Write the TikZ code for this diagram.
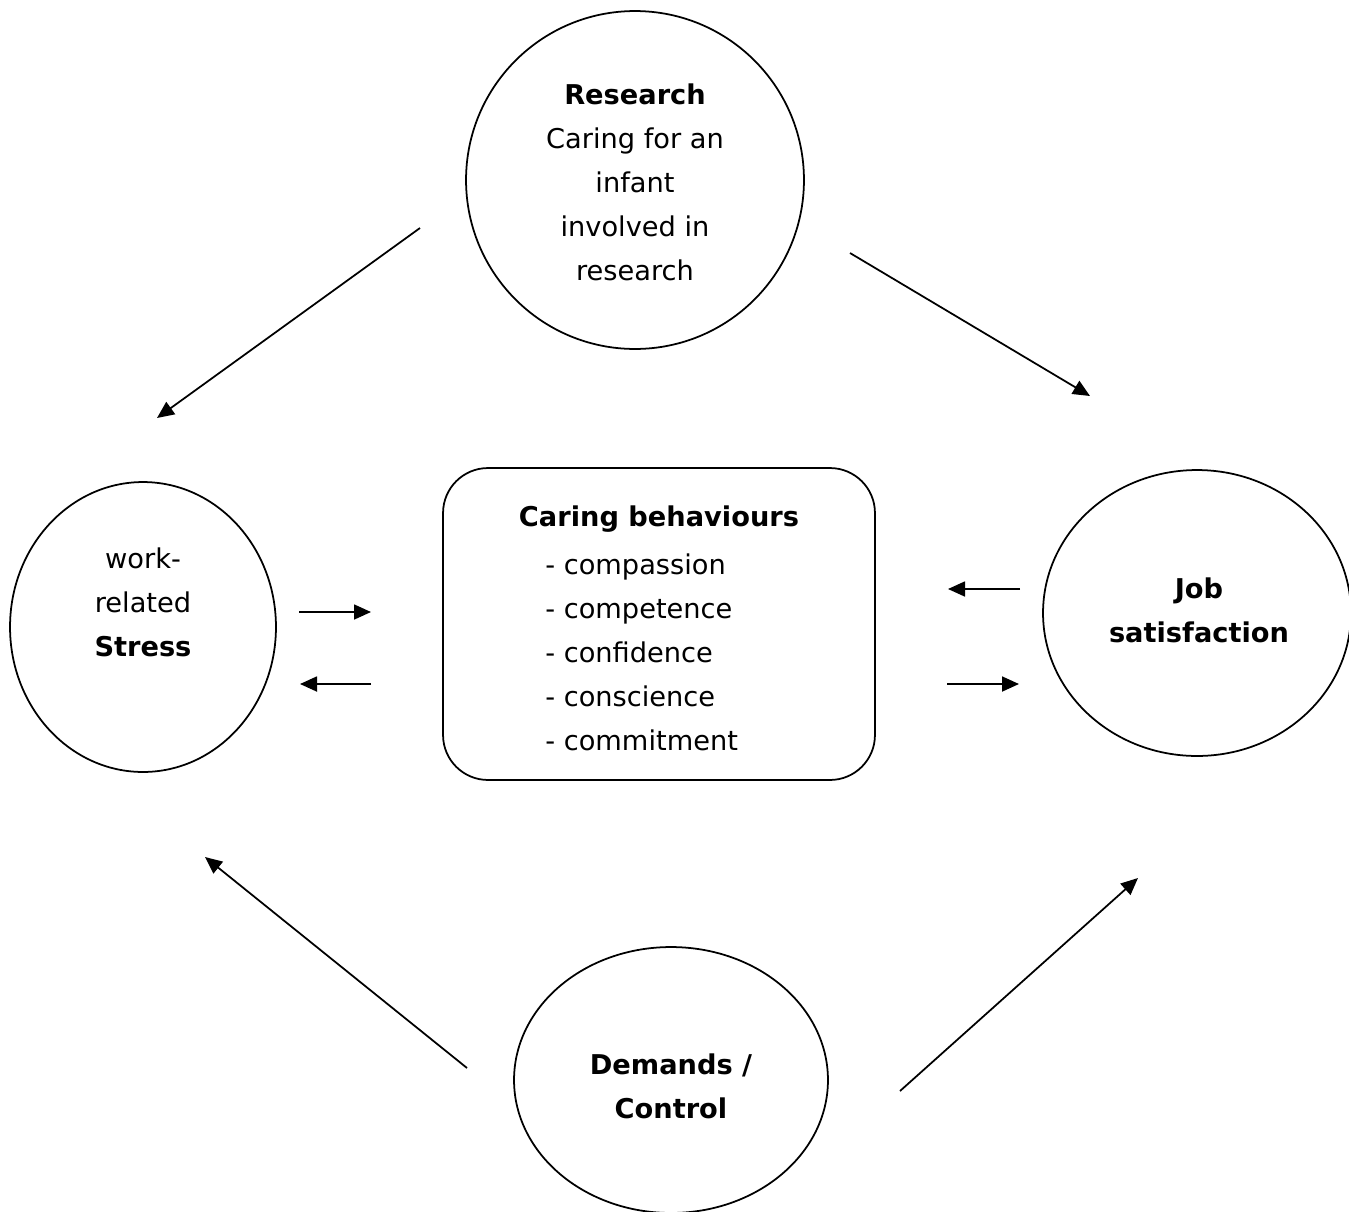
\documentclass[tikz,border=0pt]{standalone}
\usepackage{fontspec}
\setmainfont{DejaVu Sans}
\usetikzlibrary{shapes.geometric,arrows.meta}
\begin{document}
\begin{tikzpicture}[x=0.02cm,y=-0.02cm,
  bubble/.style={draw, ellipse, line width=1pt, inner sep=0pt},
  txt/.style={align=center, font=\fontsize{15.5}{25}\selectfont, inner sep=0pt},
  arr/.style={line width=1pt, -{Triangle[length=0.34cm,width=0.3cm]}}]
\clip (0,0) rectangle (1349,1211);
\fill[white] (0,0) rectangle (1349,1211);
% shapes
\node[bubble, minimum width=6.76cm, minimum height=6.76cm] (research) at (635,180) {};
\node[bubble, minimum width=5.32cm, minimum height=5.8cm] (stress) at (143,627) {};
\node[bubble, minimum width=6.16cm, minimum height=5.72cm] (job) at (1197,613) {};
\node[bubble, minimum width=6.28cm, minimum height=5.32cm] (demands) at (671,1080) {};
\node[draw, line width=1pt, rounded corners=0.9cm, minimum width=8.64cm, minimum height=6.24cm, inner sep=0pt] (care) at (659,624) {};
% texts
\node[txt] (researchtxt) at (635,182) {\textbf{Research}\\Caring for an\\infant\\involved in\\research};
\node[txt] (stresstxt) at (143,602) {work-\\related\\\textbf{Stress}};
\node[txt] (jobtxt) at (1199,610) {\textbf{Job}\\\textbf{satisfaction}};
\node[txt] (demandstxt) at (671,1086) {\textbf{Demands /}\\\textbf{Control}};
\node[txt] (carehead) at (659,519) {\textbf{Caring behaviours}};
\node[txt, align=left, anchor=west] (carelist) at (545,652) {- compassion\\- competence\\- confidence\\- conscience\\- commitment};
% arrow end points
\coordinate (a1s) at (420,228); \coordinate (a1e) at (157,418);
\coordinate (a2s) at (850,253); \coordinate (a2e) at (1090,396);
\coordinate (a3s) at (299,612); \coordinate (a3e) at (371,612);
\coordinate (a4s) at (371,684); \coordinate (a4e) at (300,684);
\coordinate (a5s) at (1020,589); \coordinate (a5e) at (948,589);
\coordinate (a6s) at (947,684); \coordinate (a6e) at (1019,684);
\coordinate (a7s) at (467,1068); \coordinate (a7e) at (205,857);
\coordinate (a8s) at (900,1091); \coordinate (a8e) at (1138,878);
\foreach \i in {1,...,8} \draw[arr] (a\i s) -- (a\i e);
\end{tikzpicture}
\end{document}
